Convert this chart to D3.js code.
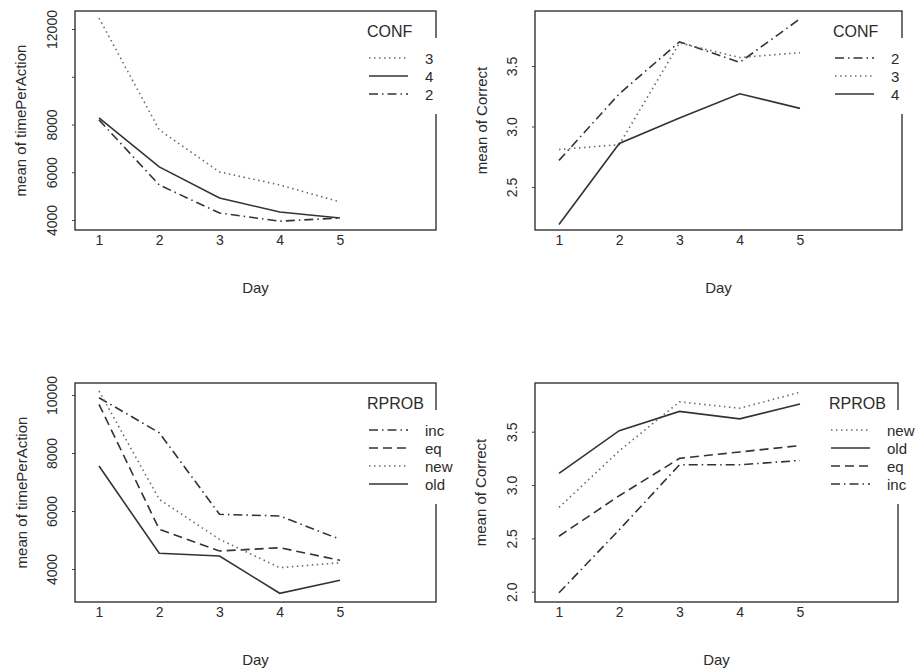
<!DOCTYPE html>
<html>
<head>
<meta charset="utf-8">
<script src="https://cdn.jsdelivr.net/npm/d3@7"></script>
<style>
  body { margin: 0; background: #fff; }
  text { font-family: "Liberation Sans", Arial, sans-serif; fill: #2b2b2b; }
</style>
</head>
<body>
<div id="chart"></div>
<script>
// Days on the x axis of every panel
const days = [1, 2, 3, 4, 5];

// CONF panels
const confTimeLevels = ["3", "4", "2"];
const timeConf3 = [12457, 7774, 6013, 5468, 4755];
const timeConf4 = [8277, 6222, 4922, 4335, 4084];
const timeConf2 = [8193, 5468, 4294, 3950, 4084];

const confCorrectLevels = ["2", "3", "4"];
const correctConf2 = [2.72, 3.27, 3.70, 3.53, 3.89];
const correctConf3 = [2.81, 2.85, 3.69, 3.57, 3.61];
const correctConf4 = [2.19, 2.86, 3.07, 3.27, 3.15];

// RPROB panels
const rprobTimeLevels = ["inc", "eq", "new", "old"];
const timeInc = [9907, 8700, 5886, 5828, 5024];
const timeEq = [9679, 5369, 4621, 4734, 4300];
const timeNew = [10138, 6403, 5024, 4045, 4217];
const timeOld = [7552, 4541, 4448, 3162, 3610];

const rprobCorrectLevels = ["new", "old", "eq", "inc"];
const correctNew = [2.79, 3.32, 3.78, 3.72, 3.87];
const correctOld = [3.11, 3.51, 3.69, 3.62, 3.76];
const correctEq = [2.52, 2.90, 3.25, 3.31, 3.37];
const correctInc = [1.99, 2.58, 3.19, 3.19, 3.23];

// y tick values and labels (R drops the overlapping 10000 label in panel 1)
const timeTicks1 = [4000, 6000, 8000, 10000, 12000];
const timeLabels1 = ["4000", "6000", "8000", "", "12000"];
const timeTicks2 = [4000, 6000, 8000, 10000];
const timeLabels2 = ["4000", "6000", "8000", "10000"];
const correctTicks1 = [2.5, 3.0, 3.5];
const correctTicks2 = [2.0, 2.5, 3.0, 3.5];

// line type per factor level
const dashes = {
  solid: null,
  dashed: "9,5",
  dotted: "1.5,3.5",
  dotdash: "9,4,1.5,4"
};
const levelStyle = {
  "3": "dotted", "4": "solid", "2": "dotdash",
  inc: "dotdash", eq: "dashed", new: "dotted", old: "solid"
};

const svg = d3.select('#chart').append('svg')
  .attr('width', 919)
  .attr('height', 672);

const panels = [
  {left: 75, right: 436, top: 11, bottom: 230,
   yDomain: [4000, 12000], yRange: [220, 29],
   ticks: timeTicks1, labels: timeLabels1, ylab: "mean of timePerAction",
   factor: "CONF", levels: confTimeLevels, series: [timeConf3, timeConf4, timeConf2],
   labelX: 52, titleX: 20},
  {left: 535, right: 902, top: 11, bottom: 230,
   yDomain: [2.5, 3.5], yRange: [187, 66],
   ticks: correctTicks1, labels: correctTicks1.map(d3.format(".1f")), ylab: "mean of Correct",
   factor: "CONF", levels: confCorrectLevels, series: [correctConf2, correctConf3, correctConf4],
   labelX: 512, titleX: 481},
  {left: 75, right: 436, top: 383, bottom: 602,
   yDomain: [4000, 10000], yRange: [569, 395],
   ticks: timeTicks2, labels: timeLabels2, ylab: "mean of timePerAction",
   factor: "RPROB", levels: rprobTimeLevels, series: [timeInc, timeEq, timeNew, timeOld],
   labelX: 52, titleX: 21},
  {left: 535, right: 898, top: 383, bottom: 602,
   yDomain: [2.0, 3.5], yRange: [591.7, 431.7],
   ticks: correctTicks2, labels: correctTicks2.map(d3.format(".1f")), ylab: "mean of Correct",
   factor: "RPROB", levels: rprobCorrectLevels, series: [correctNew, correctOld, correctEq, correctInc],
   labelX: 512, titleX: 480}
];

panels.forEach(drawPanel);

function drawPanel(p) {
  const g = svg.append('g');

  const x = d3.scaleLinear().domain([1, 5]).range([p.left + 24, p.left + 265]);
  const y = d3.scaleLinear().domain(p.yDomain).range(p.yRange);

  // lines first, frame on top
  const line = d3.line()
    .x((d, i) => x(days[i]))
    .y(d => y(d));

  p.series.forEach((vals, k) => {
    const style = levelStyle[p.levels[k]];
    g.append('path')
      .datum(vals)
      .attr('d', line)
      .attr('fill', 'none')
      .attr('stroke', style == 'dotted' ? '#6a6a6a' : '#333')
      .attr('stroke-width', 1.6)
      .attr('stroke-dasharray', dashes[style]);
  });

  // frame
  g.append('rect')
    .attr('x', p.left)
    .attr('y', p.top)
    .attr('width', p.right - p.left)
    .attr('height', p.bottom - p.top)
    .attr('fill', 'none')
    .attr('stroke', '#333')
    .attr('stroke-width', 1.4);

  // y axis
  const yaxis = d3.axisLeft(y)
    .tickValues(p.ticks)
    .tickSize(3)
    .tickFormat((d, i) => p.labels[i]);
  const gy = g.append('g')
    .attr('transform', `translate(${p.left},0)`)
    .call(yaxis);
  gy.select('.domain').remove();
  gy.selectAll('line').attr('stroke', '#444');
  gy.selectAll('text')
    .attr('x', 0).attr('y', 0).attr('dy', null)
    .attr('transform', `translate(${p.labelX - p.left},0) rotate(-90)`)
    .attr('text-anchor', 'middle')
    .attr('dominant-baseline', 'central')
    .style('font-size', '14px');

  // x axis
  const xaxis = d3.axisBottom(x)
    .tickValues(days)
    .tickFormat(d3.format('d'))
    .tickSize(0)
    .tickPadding(5);
  const gx = g.append('g')
    .attr('transform', `translate(0,${p.bottom})`)
    .call(xaxis);
  gx.select('.domain').remove();
  gx.selectAll('text').style('font-size', '14px');

  // axis titles
  g.append('text')
    .attr('x', (p.left + p.right) / 2)
    .attr('y', p.bottom + 63)
    .attr('text-anchor', 'middle')
    .style('font-size', '15px')
    .text('Day');

  g.append('text')
    .attr('transform', `translate(${p.titleX},${(p.top + p.bottom) / 2}) rotate(-90)`)
    .attr('text-anchor', 'middle')
    .attr('dominant-baseline', 'central')
    .style('font-size', '15px')
    .text(p.ylab);

  // legend, its white background breaks the right side of the frame
  const n = p.levels.length;
  g.append('rect')
    .attr('x', p.right - 70)
    .attr('y', p.top + 27)
    .attr('width', 76)
    .attr('height', 47 + n * 18 + 2 - 27)
    .attr('fill', '#fff');

  g.append('text')
    .attr('x', p.right - 69)
    .attr('y', p.top + 20)
    .attr('dominant-baseline', 'central')
    .style('font-size', '16px')
    .text(p.factor);

  p.levels.forEach((lev, i) => {
    const ly = p.top + 47 + i * 18;
    const style = levelStyle[lev];
    g.append('line')
      .attr('x1', p.right - 67).attr('x2', p.right - 28)
      .attr('y1', ly).attr('y2', ly)
      .attr('stroke', style == 'dotted' ? '#6a6a6a' : '#333')
      .attr('stroke-width', 1.6)
      .attr('stroke-dasharray', dashes[style]);
    g.append('text')
      .attr('x', p.right - 11)
      .attr('y', ly)
      .attr('dominant-baseline', 'central')
      .style('font-size', '15px')
      .text(lev);
  });
}
</script>
</body>
</html>
